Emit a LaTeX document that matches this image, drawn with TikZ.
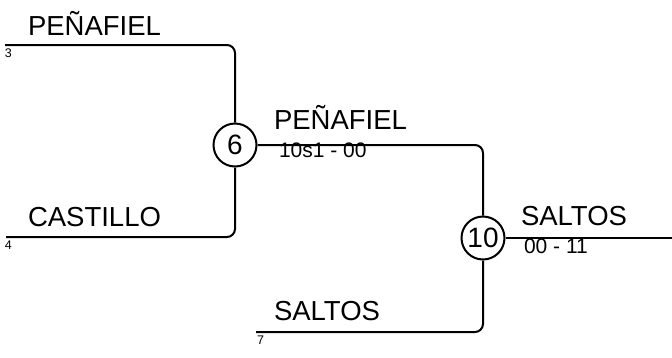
\documentclass[tikz,border=0pt]{standalone}
\usepackage{fontspec}
\setmainfont{Liberation Sans}
\begin{document}
\begin{tikzpicture}[x=1pt, y=-1pt, line width=2pt,
    every node/.style={inner sep=0pt},
    junction/.style={circle, draw, minimum size=43pt, font=\fontsize{28}{28}\selectfont},
    street/.style={anchor=base west, font=\fontsize{27.5}{27.5}\selectfont},
    timing/.style={anchor=base west, font=\fontsize{21}{21}\selectfont},
    count/.style={anchor=base west, font=\fontsize{12.5}{12.5}\selectfont},
    link/.style={rounded corners=8pt}]
    \useasboundingbox (0,0) rectangle (672,357);
    \node[junction] (j6) at (235,145) {6};
    \node[junction] (j10) at (483,238) {10};
    \coordinate (s3) at (5,45);
    \coordinate (s4) at (6,237);
    \coordinate (s7) at (256,332);
    \coordinate (out) at (672,238);
    \node[street] (n1) at (27,35) {PEÑAFIEL};
    \node[street] (n2) at (27,226) {CASTILLO};
    \node[street] (n3) at (273,129) {PEÑAFIEL};
    \node[street] (n4) at (520,225) {SALTOS};
    \node[street] (n5) at (273,320) {SALTOS};
    \node[timing] (t1) at (278,157) {10s1 - 00};
    \node[timing] (t2) at (523,253) {00 - 11};
    \node[count] (c3) at (4,57) {3};
    \node[count] (c4) at (4,249) {4};
    \node[count] (c7) at (256,344) {7};
    \draw[link] (s3) -| (j6.north);
    \draw[link] (s4) -| (j6.south);
    \draw[link] (j6.east) -| (j10.north);
    \draw[link] (s7) -| (j10.south);
    \draw (j10.east) -- (out);
\end{tikzpicture}
\end{document}
